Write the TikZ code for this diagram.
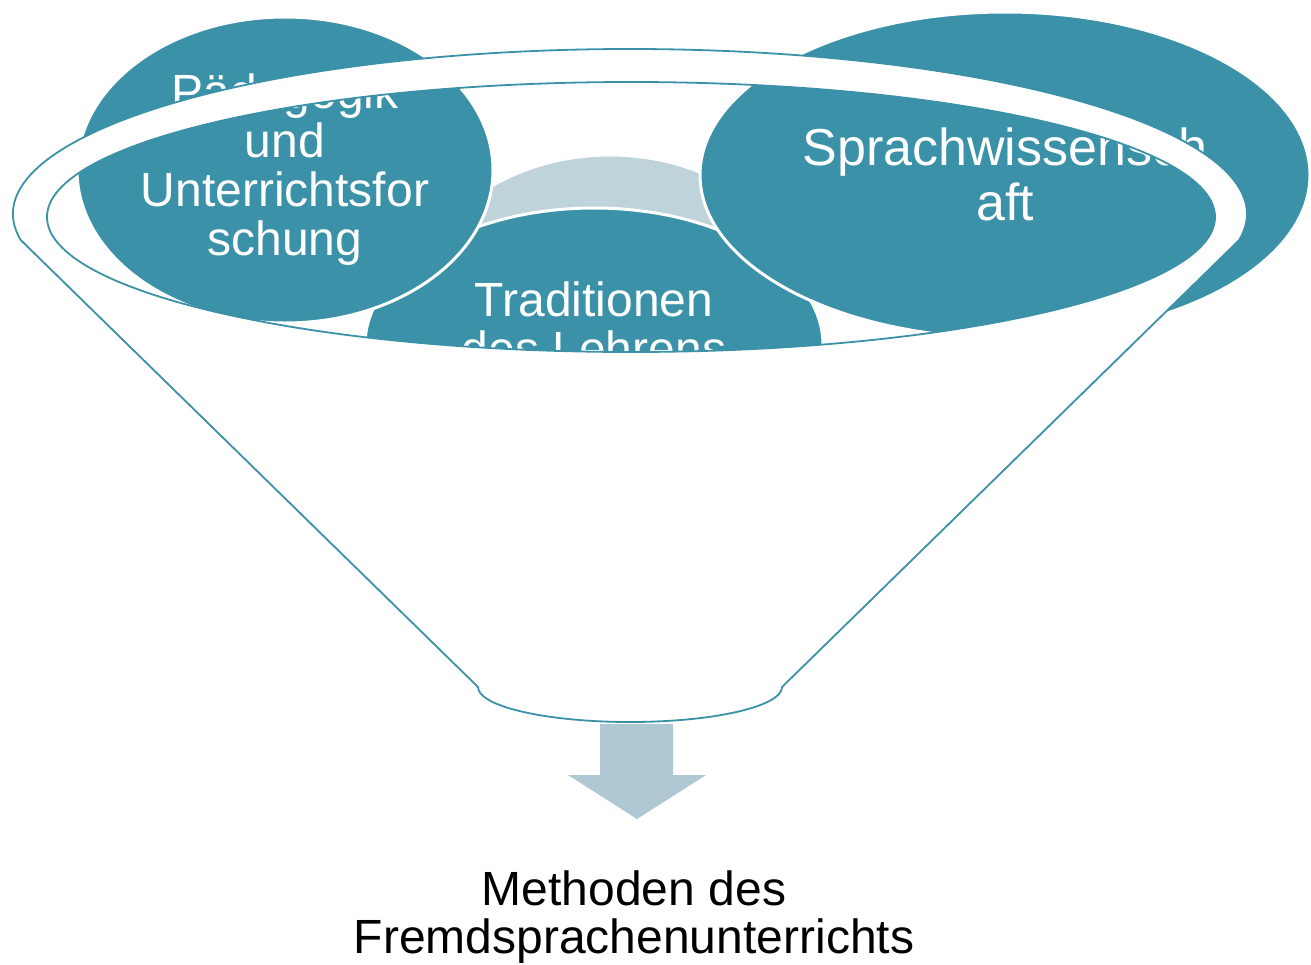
\documentclass[tikz,border=0pt]{standalone}
\usepackage{fontspec}
\setmainfont{Liberation Sans}
\definecolor{tealc}{RGB}{59,145,167}
\definecolor{lightbl}{RGB}{191,211,218}
\definecolor{arrowc}{RGB}{175,200,211}
\begin{document}
\begin{tikzpicture}[x=1pt,y=1pt,
  blob/.style={fill=tealc, draw=white, line width=3pt},
  lightblob/.style={fill=lightbl, draw=white, line width=3pt},
  lbl/.style={text=white, font=\fontsize{48}{49}\selectfont, anchor=base, inner sep=0pt},
  biglbl/.style={text=white, font=\fontsize{52}{54}\selectfont, anchor=base, inner sep=0pt},
  outlbl/.style={text=black, font=\fontsize{48}{49}\selectfont, anchor=base, inner sep=0pt},
  funnelbody/.style={fill=white, draw=tealc, line width=1.8pt, even odd rule, line join=round},
  arrowbody/.style={fill=arrowc}]
\useasboundingbox (0,0) rectangle (1311,-964);
\fill[white] (0,0) rectangle (1311,-964);
% light background circle
\path[lightblob] (610,-324) ellipse [x radius=205, y radius=169];
% Traditionen des Lehrens
\path[blob] (594,-345) ellipse [x radius=229, y radius=137];
\node[lbl] (t1) at (594,-316) {Traditionen};
\node[lbl] (t2) at (594,-365) {des Lehrens};
% Paedagogik
\path[blob] (285,-170) ellipse [x radius=208, y radius=153];
\node[lbl] (p1) at (285,-108) {Pädagogik};
\node[lbl] (p2) at (285,-157) {und};
\node[lbl] (p3) at (285,-206) {Unterrichtsfor};
\node[lbl] (p4) at (285,-255) {schung};
% Sprachwissenschaft
\path[blob] (1005,-175) ellipse [x radius=305, y radius=163];
\node[biglbl] (s1) at (1005,-165) {Sprachwissensch};
\node[biglbl] (s2) at (1005,-220) {aft};
% funnel
\path[funnelbody]
  (20.7,-240) arc[start angle=189.07, end angle=-9.07, x radius=617, y radius=165]
  -- (782,-687) arc[start angle=0, end angle=-180, x radius=152, y radius=35]
  -- cycle
  (631,-217) ellipse [x radius=584, y radius=135];
% arrow
\path[arrowbody] (600,-724) -- (673,-724) -- (673,-775) -- (706,-775) -- (637,-819)
  -- (568,-775) -- (600,-775) -- cycle;
% result text
\node[outlbl] (m1) at (634,-905) {Methoden des};
\node[outlbl] (m2) at (634,-953) {Fremdsprachenunterrichts};
\end{tikzpicture}
\end{document}
